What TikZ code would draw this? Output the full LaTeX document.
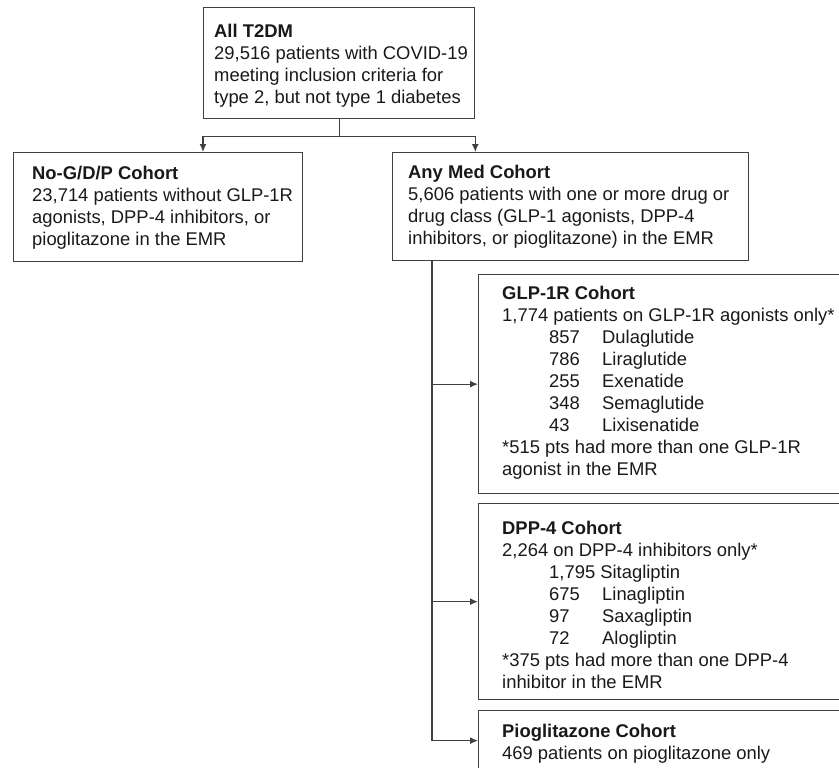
\documentclass[tikz,border=0pt]{standalone}
\usepackage{fontspec}
\setmainfont{Liberation Sans}
\usetikzlibrary{arrows.meta}
\newcommand{\drug}[2]{\hspace*{47pt}\makebox[53pt][l]{#1}#2}

\begin{document}
\begin{tikzpicture}[x=1pt,y=-1pt,
	cbox/.style={draw=black!75, line width=1.3pt, rectangle, anchor=north west, inner sep=0pt},
	ctext/.style={anchor=base west, align=left, inner sep=0pt, text=black!90, font=\fontsize{18.4}{22}\selectfont},
	arr/.style={draw=black!75, line width=1.3pt, -{Latex[length=8pt,width=7pt]}}]
		\useasboundingbox (0,0) rectangle (839,768);
		\clip (0,0) rectangle (839,768);
		
		% boxes
		\node[cbox, minimum width=271pt, minimum height=111pt] (all) at (203,7) {};
		\node[cbox, minimum width=289pt, minimum height=109pt] (nog) at (13,152) {};
		\node[cbox, minimum width=356pt, minimum height=108pt] (anymed) at (392,152) {};
		\node[cbox, minimum width=400pt, minimum height=219pt] (glp) at (478,274) {};
		\node[cbox, minimum width=400pt, minimum height=196pt] (dpp) at (478,503) {};
		\node[cbox, minimum width=400pt, minimum height=60pt] (pio) at (478,710) {};
		
		% texts (base = last line)
		\node[ctext] (allt) at ([shift={(11,96)}]all.north west) {\textbf{All T2DM}\\29,516 patients with COVID-19\\meeting inclusion criteria for\\type 2, but not type 1 diabetes};
		\node[ctext] (nogt) at ([shift={(19,93)}]nog.north west) {\textbf{No-G/D/P Cohort}\\23,714 patients without GLP-1R\\agonists, DPP-4 inhibitors, or\\pioglitazone in the EMR};
		\node[ctext] (anymedt) at ([shift={(16,92)}]anymed.north west) {\textbf{Any Med Cohort}\\5,606 patients with one or more drug or\\drug class (GLP-1 agonists, DPP-4\\inhibitors, or pioglitazone) in the EMR};
		\node[ctext] (glpt) at ([shift={(24,201.5)}]glp.north west) {\textbf{GLP-1R Cohort}\\1,774 patients on GLP-1R agonists only*\\
			\drug{857}{Dulaglutide}\\\drug{786}{Liraglutide}\\\drug{255}{Exenatide}\\\drug{348}{Semaglutide}\\\drug{43}{Lixisenatide}\\
			*515 pts had more than one GLP-1R\\agonist in the EMR};
		\node[ctext] (dppt) at ([shift={(24,185)}]dpp.north west) {\textbf{DPP-4 Cohort}\\2,264 on DPP-4 inhibitors only*\\
			\hspace*{47pt}1,795 Sitagliptin\\\drug{675}{Linagliptin}\\\drug{97}{Saxagliptin}\\\drug{72}{Alogliptin}\\
			*375 pts had more than one DPP-4\\inhibitor in the EMR};
		\node[ctext] (piot) at ([shift={(24,49.7)}]pio.north west) {\textbf{Pioglitazone Cohort}\\469 patients on pioglitazone only};
		
		% connectors
		\draw[arr] (all.south) -- ++(0,17) -| (all.south west |- nog.north);
		\draw[arr] (all.south) -- ++(0,17) -| (all.south east |- anymed.north);
		\draw[arr] ([xshift=40pt]anymed.south west) |- (glp.west);
		\draw[arr] ([xshift=40pt]anymed.south west) |- (dpp.west);
		\draw[arr] ([xshift=40pt]anymed.south west) |- (pio.west);
\end{tikzpicture}
\end{document}
